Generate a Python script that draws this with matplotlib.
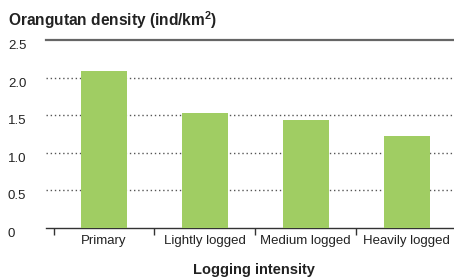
import matplotlib
matplotlib.use("Agg")
import matplotlib.pyplot as plt

# data
categories = ["Primary", "Lightly logged", "Medium logged", "Heavily logged"]
density = [2.09, 1.53, 1.44, 1.23]
y_ticks = [0, 0.5, 1.0, 1.5, 2.0, 2.5]
y_tick_labels = ["0", "0.5", "1.0", "1.5", "2.0", "2.5"]

plt.rcParams['font.family'] = ['Liberation Sans', 'DejaVu Sans']
plt.rcParams['mathtext.fontset'] = 'custom'
plt.rcParams['mathtext.rm'] = 'Liberation Sans'
plt.rcParams['mathtext.bf'] = 'Liberation Sans:bold'

W, H = 454, 279
fig = plt.figure(figsize=(W/100, H/100), dpi=100)
ax = fig.add_axes([46/W, 1-228/H, (454-46)/W, (228-40)/H])

x = list(range(len(categories)))
ax.bar(x, density, width=0.455, color='#a0cd63', zorder=3)

ax.set_xlim(-0.575, 3.47)
ax.set_ylim(0, 2.5)

# dotted gridlines
for v in y_ticks[1:-1]:
    ax.axhline(v, color='#555555', lw=1, linestyle=(0, (1, 2)), zorder=1)

for s in ['left', 'right']:
    ax.spines[s].set_visible(False)
ax.spines['top'].set_color('#666666')
ax.spines['top'].set_linewidth(1.6)
ax.spines['bottom'].set_color('#333333')
ax.spines['bottom'].set_linewidth(1.0)

ax.set_yticks(y_ticks)
ax.set_yticklabels(y_tick_labels, fontsize=9.5, color='#222222')
ax.tick_params(axis='y', length=0, pad=27.4)
for t in ax.get_yticklabels():
    t.set_horizontalalignment('left')
    t.set_verticalalignment('top')

# major ticks at category boundaries, labels at centers
ax.set_xticks([-0.5, 0.5, 1.5, 2.5])
ax.set_xticklabels([])
ax.tick_params(axis='x', which='major', length=5, width=1, color='#333333', direction='out')
ax.set_xticks(x, minor=True)
ax.set_xticklabels(categories, minor=True, fontsize=9.5, color='#222222')
ax.tick_params(axis='x', which='minor', length=0, pad=5)

ax.set_xlabel('Logging intensity', fontsize=10.5, fontweight='bold', color='#222222')
ax.xaxis.set_label_coords(0.51, -0.185)

fig.text(8/W, 1-26/H, r'Orangutan density (ind/km$^\mathbf{2}$)', fontsize=11.2, fontweight='bold',
         color='#222222', ha='left', va='baseline')

fig.savefig('out.png', dpi=100)
